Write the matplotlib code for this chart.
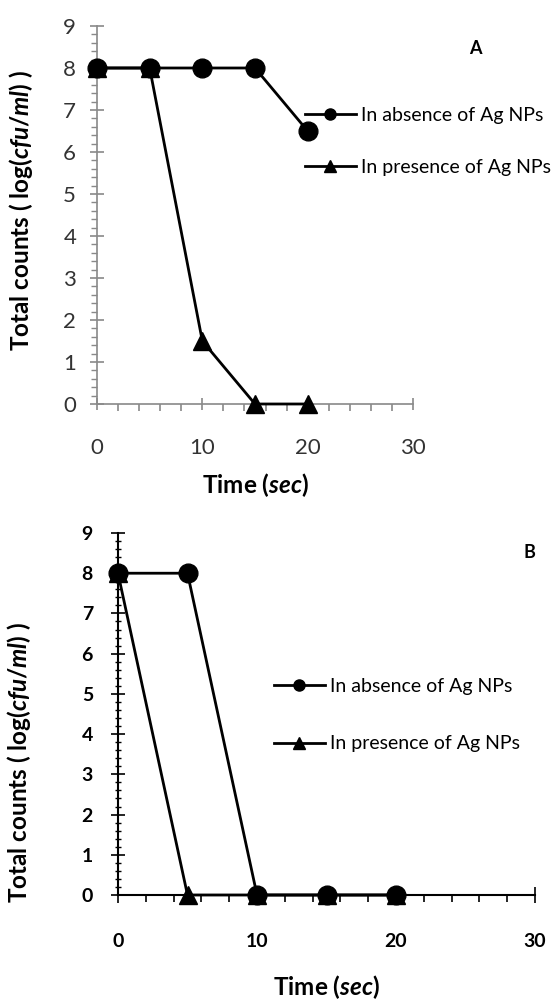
import matplotlib.pyplot as plt
from matplotlib.lines import Line2D
from matplotlib.ticker import MultipleLocator

plt.rcParams['font.family'] = ['Lato', 'DejaVu Sans']
plt.rcParams['mathtext.fontset'] = 'custom'
plt.rcParams['mathtext.it'] = 'Lato:italic:bold'
plt.rcParams['mathtext.rm'] = 'Lato:bold'

time = [0, 5, 10, 15, 20]
a_absence = [8, 8, 8, 8, 6.5]
a_presence = [8, 8, 1.5, 0, 0]
b_absence = [8, 8, 0, 0, 0]
b_presence = [8, 0, 0, 0, 0]
labels = ['In absence of Ag NPs', 'In presence of Ag NPs']

ylab = r'Total counts ( log($\mathit{cfu/ml}$) )'
xlab = r'Time ($\mathit{sec}$)'

W, H = 551, 1001
fig = plt.figure(figsize=(W / 100, H / 100), dpi=100)


def box(l, r, t, b):
    return [l / W, 1 - b / H, (r - l) / W, (b - t) / H]


axA = fig.add_axes(box(97, 413, 26, 404))
axB = fig.add_axes(box(118, 535, 533, 895))


def draw(ax, absence, presence, axcol, bold):
    ax.plot(time, presence, color='black', lw=2, marker='^', ms=13.5, clip_on=False, zorder=3)
    ax.plot(time, absence, color='black', lw=2, marker='o', ms=13.5, clip_on=False, zorder=4)
    ax.set_xlim(0, 30)
    ax.set_ylim(0, 9)
    ax.xaxis.set_major_locator(MultipleLocator(10))
    ax.xaxis.set_minor_locator(MultipleLocator(2))
    ax.yaxis.set_major_locator(MultipleLocator(1))
    ax.yaxis.set_minor_locator(MultipleLocator(0.2))
    for s in ['top', 'right']:
        ax.spines[s].set_visible(False)
    for s in ['left', 'bottom']:
        ax.spines[s].set_color(axcol)
        ax.spines[s].set_linewidth(1.5 if bold else 1.2)
    if bold:
        ax.tick_params(axis='x', which='major', direction='inout', length=11, width=1.2,
                       color=axcol, pad=22, labelsize=14)
        ax.tick_params(axis='x', which='minor', direction='out', length=5, width=1.2, color=axcol)
        ax.tick_params(axis='y', which='major', direction='inout', length=10, width=1.2,
                       color=axcol, pad=13, labelsize=14)
        ax.tick_params(axis='y', which='minor', direction='inout', length=5, width=1.0, color=axcol)
    else:
        ax.tick_params(axis='x', which='major', direction='inout', length=9, width=1.2,
                       color=axcol, pad=20, labelsize=16)
        ax.tick_params(axis='x', which='minor', direction='out', length=5, width=1.2, color=axcol)
        ax.tick_params(axis='y', which='major', direction='inout', length=10, width=1.2,
                       color=axcol, pad=10, labelsize=16)
        ax.tick_params(axis='y', which='minor', direction='out', length=4.5, width=1.0, color=axcol)
    for t in ax.get_xticklabels() + ax.get_yticklabels():
        t.set_fontweight('bold' if bold else 'normal')
        t.set_color('black' if bold else '#333333')
    ax.set_ylabel(ylab, fontsize=17.5, fontweight='bold')
    ax.set_xlabel(xlab, fontsize=17.5, fontweight='bold')
    ax.xaxis.label.set_verticalalignment('baseline')
    handles = [Line2D([], [], color='black', lw=2, marker='o', ms=8),
               Line2D([], [], color='black', lw=2, marker='^', ms=8)]
    return handles


hA = draw(axA, a_absence, a_presence, '#898989', False)
hB = draw(axB, b_absence, b_presence, 'black', True)

fig.legend(hA, labels, loc='center left', bbox_to_anchor=(305 / W, 1 - 141 / H),
           frameon=False, handlelength=2.6, handletextpad=0.3, labelspacing=1.8,
           fontsize=14, borderpad=0, borderaxespad=0)
fig.legend(hB, labels, loc='center left', bbox_to_anchor=(274 / W, 1 - 715 / H),
           frameon=False, handlelength=2.6, handletextpad=0.3, labelspacing=2.1,
           fontsize=14, borderpad=0, borderaxespad=0)

axA.yaxis.set_label_coords(-0.196, 0.512)
axA.xaxis.set_label_coords(0.5, -0.235)
axB.yaxis.set_label_coords(-0.204, 0.365)
axB.xaxis.set_label_coords(0.5, -0.276)

fig.text(475 / W, 1 - 49 / H, 'A', fontsize=13, fontweight='bold', ha='center', va='center')
fig.text(529 / W, 1 - 553 / H, 'B', fontsize=13, fontweight='bold', ha='center', va='center')

fig.savefig('out.png', dpi=100)
